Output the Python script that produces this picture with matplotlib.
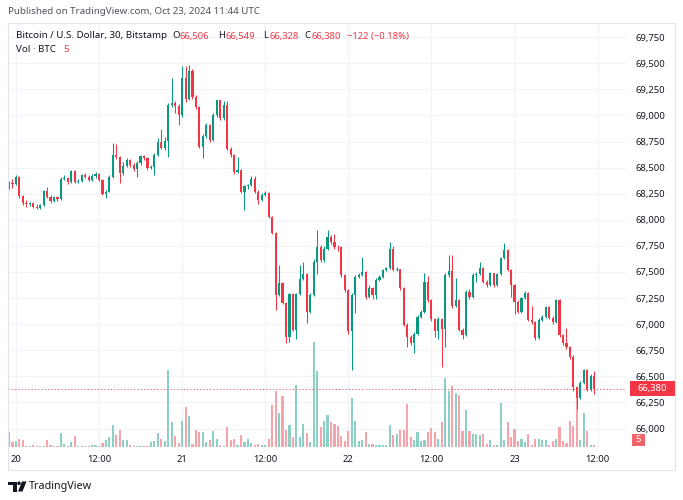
import numpy as np
import matplotlib.pyplot as plt
from matplotlib.patches import Rectangle, Polygon, Circle
from matplotlib.transforms import Affine2D, blended_transform_factory

plt.rcParams['font.family'] = ['Noto Sans', 'DejaVu Sans']

# BTC/USD 30 min candles, Bitstamp. index 0 = Oct 20 00:00 UTC, first candle Oct 19 23:00
start_index = -2
first_open = 68320
closes = [
    68350, 68340, 68410, 68225, 68165, 68150, 68160, 68125, 68112, 68140,
    68275, 68222, 68180, 68215, 68200, 68395, 68400, 68360, 68470, 68365,
    68370, 68425, 68415, 68380, 68420, 68440, 68385, 68250, 68270, 68410,
    68620, 68600, 68445, 68520, 68570, 68525, 68490, 68540, 68610, 68590,
    68500, 68510, 68620, 68750, 68690, 68760, 69100, 69115, 69095, 69005,
    69355, 69160, 69430, 69180, 69085, 68700, 68800, 68905, 68765, 69000,
    69145, 68975, 69100, 68680, 68620, 68460, 68475, 68270, 68320, 68330,
    68395, 68270, 68188, 68240, 68255, 68030, 67870, 67280, 67390, 67200,
    66880, 67290, 66945, 67290, 67430, 67480, 67120, 67280, 67600, 67740,
    67615, 67725, 67835, 67790, 67740, 67735, 67470, 67330, 66930, 67280,
    67455, 67475, 67500, 67260, 67350, 67280, 67420, 67455, 67520, 67535,
    67725, 67520, 67525, 67345, 66995, 66880, 66815, 66910, 67070, 67120,
    67406, 67230, 67045, 66930, 67050, 66950, 67470, 67510, 67170, 67230,
    66945, 66895, 67310, 67262, 67470, 67480, 67535, 67405, 67375, 67486,
    67375, 67480, 67630, 67710, 67520, 67375, 67215, 67120, 67250, 67295,
    67040, 67020, 66865, 67040, 67070, 67160, 67060, 67020, 67230, 66895,
    66815, 66780, 66690, 66400, 66290, 66440, 66560, 66370, 66506, 66380,
]
highs = [
    68375, 68390, 68430, 68420, 68240, 68190, 68175, 68170, 68150, 68150,
    68290, 68310, 68235, 68225, 68230, 68410, 68430, 68410, 68480, 68475,
    68390, 68440, 68445, 68425, 68440, 68455, 68445, 68395, 68285, 68430,
    68735, 68730, 68610, 68550, 68595, 68580, 68540, 68560, 68625, 68625,
    68600, 68530, 68640, 68780, 68870, 68790, 69120, 69355, 69140, 69110,
    69475, 69470, 69480, 69450, 69200, 69095, 68820, 68925, 68915, 69020,
    69150, 69150, 69140, 69140, 68700, 68630, 68600, 68490, 68330, 68345,
    68420, 68420, 68285, 68260, 68280, 68270, 68040, 67880, 67565, 67400,
    67210, 67300, 67300, 67300, 67570, 67600, 67490, 67300, 67620, 67900,
    67760, 67750, 67900, 67850, 67860, 67760, 67745, 67480, 67340, 67300,
    67470, 67495, 67645, 67510, 67375, 67360, 67440, 67470, 67530, 67550,
    67790, 67750, 67545, 67530, 67355, 67010, 66895, 66925, 67085, 67135,
    67490, 67460, 67240, 67060, 67065, 67060, 67490, 67660, 67665, 67440,
    67240, 66960, 67330, 67340, 67490, 67500, 67600, 67545, 67420, 67500,
    67495, 67495, 67645, 67780, 67720, 67530, 67385, 67230, 67265, 67320,
    67310, 67170, 67030, 67055, 67090, 67175, 67170, 67075, 67245, 67240,
    66905, 66960, 66795, 66700, 66410, 66455, 66570, 66570, 66520, 66549,
]
lows = [
    68300, 68305, 68330, 68210, 68145, 68120, 68135, 68110, 68100, 68105,
    68135, 68205, 68165, 68170, 68180, 68190, 68380, 68345, 68355, 68350,
    68355, 68360, 68400, 68370, 68375, 68405, 68370, 68240, 68205, 68265,
    68400, 68580, 68350, 68430, 68505, 68505, 68470, 68410, 68530, 68575,
    68480, 68490, 68430, 68610, 68680, 68670, 68600, 69080, 69020, 68910,
    68990, 69130, 69150, 69160, 69060, 68690, 68590, 68780, 68750, 68755,
    68990, 68960, 68960, 68670, 68600, 68440, 68450, 68260, 68095, 68300,
    68320, 68260, 68155, 68180, 68230, 68020, 67860, 67135, 67270, 67190,
    66815, 66830, 66930, 66860, 67280, 67420, 67010, 67110, 67270, 67485,
    67600, 67600, 67715, 67770, 67725, 67700, 67455, 67310, 66910, 66560,
    67105, 67440, 67465, 67245, 67250, 67245, 67245, 67410, 67445, 67510,
    67525, 67505, 67505, 67330, 66980, 66780, 66800, 66720, 66900, 67060,
    67110, 67215, 67030, 66880, 66860, 66590, 66780, 67455, 67155, 67160,
    66930, 66860, 66885, 67245, 67255, 67400, 67470, 67390, 67360, 67370,
    67360, 67370, 67470, 67620, 67505, 67260, 67100, 67105, 67110, 67240,
    67030, 67005, 66850, 66855, 67030, 67060, 67045, 67005, 67010, 66880,
    66800, 66765, 66670, 66360, 66190, 66280, 66430, 66355, 66360, 66328,
]
volumes = [
    31, 10, 13, 17, 15, 2, 3, 5, 2, 2,
    2, 14, 5, 2, 2, 28, 6, 2, 11, 23,
    2, 2, 2, 2, 4, 4, 2, 9, 14, 21,
    45, 25, 35, 14, 14, 5, 2, 3, 3, 3,
    3, 10, 12, 28, 17, 12, 155, 50, 23, 8,
    53, 81, 62, 7, 35, 31, 31, 11, 14, 33,
    16, 4, 2, 41, 14, 16, 5, 24, 11, 16,
    8, 5, 6, 4, 4, 16, 85, 113, 69, 102,
    35, 45, 21, 125, 21, 47, 29, 11, 210, 153,
    40, 53, 64, 51, 47, 42, 22, 12, 33, 99,
    53, 12, 15, 31, 7, 7, 4, 4, 5, 4,
    45, 24, 27, 35, 35, 87, 20, 15, 31, 12,
    15, 31, 39, 30, 17, 50, 139, 113, 123, 109,
    105, 33, 74, 33, 27, 27, 25, 27, 7, 14,
    5, 5, 89, 14, 50, 21, 37, 12, 17, 10,
    27, 5, 16, 16, 15, 14, 5, 12, 17, 40,
    12, 8, 52, 43, 105, 15, 69, 32, 5, 5,
]
time_ticks = [0, 24, 48, 72, 96, 120, 144, 168]
time_labels = ['20', '12:00', '21', '12:00', '22', '12:00', '23', '12:00']
price_ticks = list(range(66000, 69751, 250))

UP, DOWN = '#089981', '#F23645'
UP_VOL, DOWN_VOL = '#8CCFC4', '#F7A3A9'
TEXT = '#131722'

W, H = 683, 500
fig = plt.figure(figsize=(W / 100, H / 100), dpi=100)
px = Affine2D().scale(1 / W, -1 / H).translate(0, 1) + fig.transFigure

# chart pane in pixels
L, R, T, B = 7.5, 626, 22.7, 447
rect = [L / W, 1 - B / H, (R - L) / W, (B - T) / H]
ymin, ymax = 65823, 69889

ax_bg = fig.add_axes(rect)
ax_vol = fig.add_axes(rect, sharex=ax_bg)
ax = fig.add_axes(rect, sharex=ax_bg, sharey=ax_bg)
for a in (ax_vol, ax):
    a.set_facecolor('none')
    a.axis('off')

ax_bg.set_xlim(-2.43, 176.2)
ax_bg.set_ylim(ymin, ymax)
for s in ax_bg.spines.values():
    s.set_visible(False)
ax_bg.yaxis.tick_right()
ax_bg.set_yticks(price_ticks)
ax_bg.set_yticklabels([f'{p:,}' for p in price_ticks])
ax_bg.set_xticks(time_ticks)
ax_bg.set_xticklabels(time_labels)
ax_bg.tick_params(axis='y', length=0, pad=7, labelsize=6.8, labelcolor=TEXT)
ax_bg.tick_params(axis='x', length=0, pad=5.5, labelsize=6.8, labelcolor=TEXT)
ax_bg.grid(True, color='#F0F3FA', lw=0.9)

x = np.arange(len(closes)) + start_index
c = np.array(closes)
o = np.array([first_open] + closes[:-1])
up = c >= o
cols = np.where(up, UP, DOWN)
vcols = np.where(up, UP_VOL, DOWN_VOL)

# volume (separate scale, bottom of pane)
ax_vol.bar(x, volumes, width=0.62, color=vcols, lw=0)
ax_vol.set_ylim(0, 849)

# candles
ax.vlines(x, lows, highs, colors=cols, lw=0.75)
ax.bar(x, np.maximum(np.abs(c - o), 8), bottom=np.minimum(o, c),
       width=0.62, color=cols, lw=0)

# last price line and label
last = closes[-1]
ax.axhline(last, color='#F45B67', lw=0.7, ls=(0, (1.2, 2.2)))
per_px = (ymax - ymin) / (B - T)
bt = blended_transform_factory(ax.transAxes, ax.transData)
ax.add_patch(Rectangle((3.5 / (R - L) + 1, last - 7.5 * per_px), 46 / (R - L), 15 * per_px,
                       transform=bt, fc=DOWN, ec='none', clip_on=False))
ax.text(1 + 26.5 / (R - L), last, f'{last:,}', transform=bt, color='white',
        fontsize=6.8, ha='center', va='center', clip_on=False)

# volume label
fig.patches.append(Rectangle((632, 434), 13, 12, transform=px, fc='#F0646A', ec='none'))
fig.text(638.5, 440, str(volumes[-1]), transform=px, color='white', fontsize=6.8,
         ha='center', va='center')

# frame
fig.patches.append(Rectangle((L, T), 667, 470 - T, transform=px, fill=False,
                             ec='#E0E3EB', lw=0.8))

# header texts
fig.text(8, 12, 'Published on TradingView.com, Oct 23, 2024 11:44 UTC', transform=px,
         fontsize=7, color='#50535E', va='center')
fig.text(16, 36, 'Bitcoin / U.S. Dollar, 30, Bitstamp', transform=px,
         fontsize=7.0, color=TEXT, va='center')
legend = [(172.5, 'O', TEXT), (180, '66,506', DOWN), (218, 'H', TEXT), (225.5, '66,549', DOWN),
          (263.5, 'L', TEXT), (269, '66,328', DOWN), (304, 'C', TEXT), (311, '66,380', DOWN),
          (347, '\u2212122 (\u22120.18%)', DOWN)]
for lx, s, col in legend:
    fig.text(lx, 36, s, transform=px, fontsize=6.8, color=col, va='center')
fig.text(16, 50, 'Vol \u00b7 BTC', transform=px, fontsize=7.0, color=TEXT, va='center')
fig.text(63, 50, str(volumes[-1]), transform=px, fontsize=7.0, color=DOWN, va='center')

# TradingView logo
fig.patches.append(Polygon([(8, 481.5), (16.5, 481.5), (16.5, 491.5), (12.5, 491.5),
                            (12.5, 485), (8, 485)], closed=True, transform=px, fc=TEXT))
fig.patches.append(Circle((19, 483.3), 1.8, transform=px, fc=TEXT))
fig.patches.append(Polygon([(22, 481.5), (26.5, 481.5), (22.5, 491.5), (18, 491.5)],
                           closed=True, transform=px, fc=TEXT))
fig.text(29, 486.5, 'TradingView', transform=px, fontsize=7.8, color=TEXT, va='center')

fig.savefig('out.png', dpi=100)
